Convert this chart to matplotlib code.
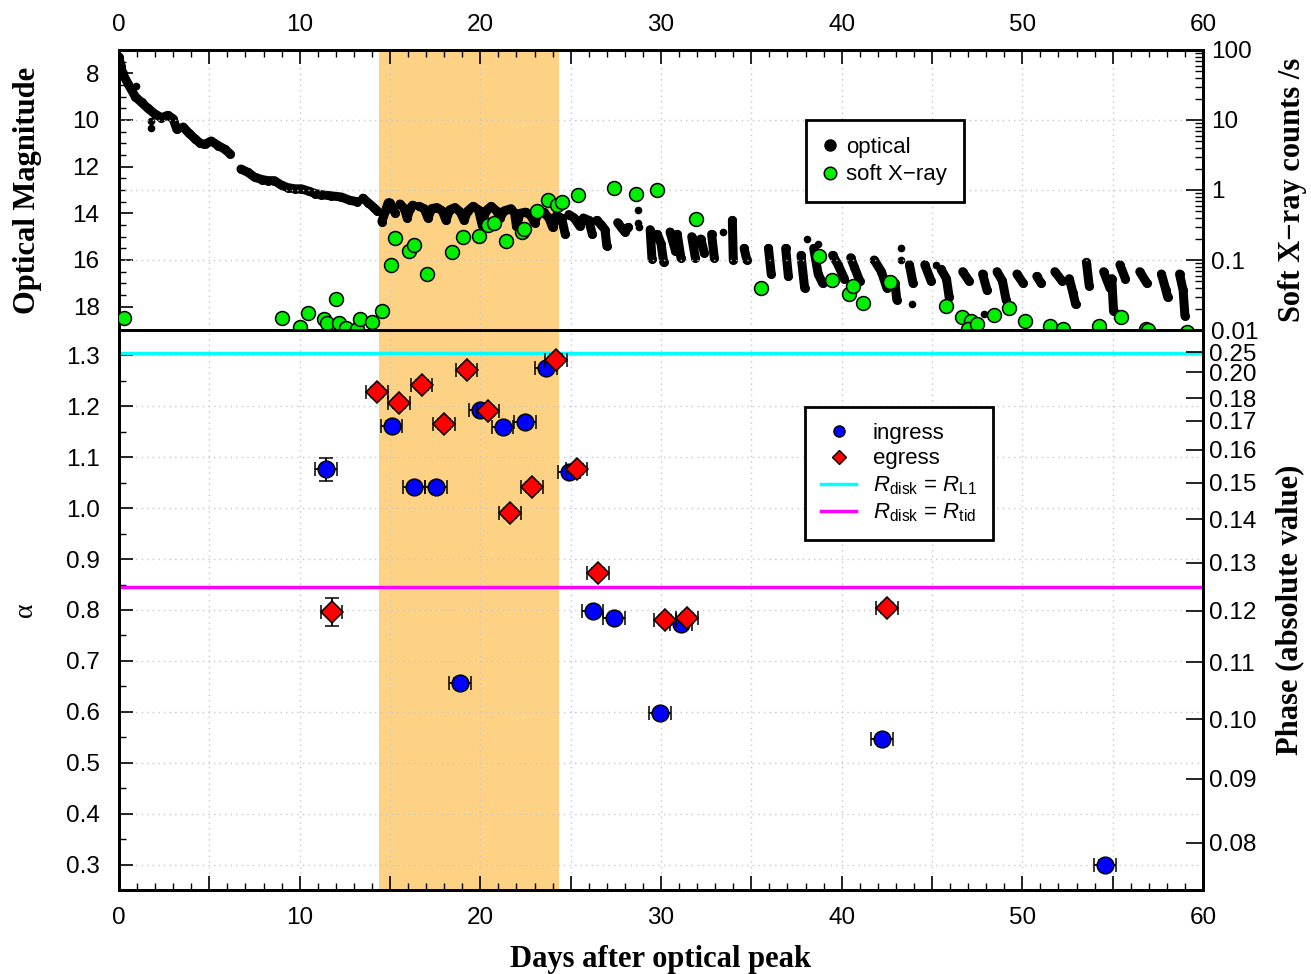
import numpy as np
import matplotlib
matplotlib.use("Agg")
import matplotlib.pyplot as plt
from matplotlib.lines import Line2D
from matplotlib.ticker import MultipleLocator, LogLocator, NullFormatter, FixedLocator

plt.rcParams['font.family'] = ['Liberation Sans', 'DejaVu Sans']
plt.rcParams['mathtext.fontset'] = 'custom'
plt.rcParams['mathtext.rm'] = 'Liberation Sans'
plt.rcParams['mathtext.it'] = 'Liberation Sans:italic'

nan = np.nan

# optical light curve, nightly runs separated by nan (day, magnitude)
opt_day = [0.0, 0.1, 0.2, 0.5, 0.9, 1.25, 1.6, 2.0, 2.35, 2.7, 3.0, 3.2, nan,
           3.55, 3.85, 4.2, 4.5, 4.75, 5.1, 5.5, 5.85, 6.15, nan,
           6.75, 7.15, 7.5, 7.9, 8.25, 8.6, 9.0, 9.35, 9.75, 10.1, 10.5, 10.85, 11.2, 11.75, 12.3, 12.8, 13.2, nan,
           13.5, 13.8, 14.1, 14.3, nan,
           14.55, 14.75, 14.9, nan,
           15.0, 15.15, 15.3, nan,
           15.55, 15.8, 15.95, 16.1, 16.25, nan,
           16.6, 16.9, 17.1, 17.3, 17.6, 17.9, 18.1, 18.3, 18.6, 18.9, 19.1, 19.3, 19.6, 19.9, 20.1, 20.3,
           20.6, 20.9, 21.1, 21.3, 21.7, 21.9, 22.0, 22.2, 22.5, 22.8, 23.0, 23.2, 23.5, 23.8, 24.0, 24.2,
           24.5, 24.7, nan,
           24.9, 25.2, 25.5, 25.7, 26.0, 26.2, nan,
           26.45, 26.7, 26.9, 27.0, nan,
           27.6, 27.8, 28.0, 28.2, nan,
           29.4, 29.5, nan, 29.8, 30.0, 30.15, nan, 30.5, 30.8, nan, 30.9, 31.1, nan,
           31.7, 31.9, nan, 32.2, 32.4, nan, 32.8, 32.95, nan, 33.95, 34.0, nan, 34.6, 34.75, nan,
           35.95, 36.1, nan, 36.9, 37.05, nan, 37.75, 37.95, nan, 38.45, 38.7, 38.95, nan,
           39.5, 39.8, 40.15, nan, 40.5, 40.7, 41.0, nan, 41.8, 42.2, 42.5, nan, 42.95, 43.05, nan,
           43.75, 43.95, nan, 44.6, 44.95, nan, 45.5, 45.8, 45.95, nan, 46.7, 47.05, nan,
           47.8, 48.05, nan, 48.6, 48.9, 49.1, nan, 49.7, 50.05, nan, 50.8, 51.05, nan,
           51.8, 52.2, nan, 52.6, 52.8, 52.95, nan, 53.55, 53.7, nan, 54.5, 54.85, nan,
           54.95, 55.05, nan, 55.4, 55.7, nan, 56.5, 56.9, nan, 57.7, 57.95, 58.05, nan,
           58.7, 58.9, 59.0]
opt_mag = [7.3, 7.7, 8.0, 8.45, 9.0, 9.25, 9.5, 9.75, 9.9, 9.8, 9.95, 10.4, nan,
           10.3, 10.55, 10.8, 11.0, 11.05, 10.9, 11.1, 11.25, 11.45, nan,
           12.1, 12.25, 12.45, 12.55, 12.6, 12.6, 12.8, 12.9, 12.95, 12.95, 13.05, 13.15, 13.2, 13.25, 13.3, 13.45, 13.5, nan,
           13.35, 13.55, 13.75, 13.9, nan,
           14.35, 13.9, 13.55, nan,
           13.55, 13.8, 14.0, nan,
           13.6, 13.8, 14.2, 13.8, 13.65, nan,
           13.7, 13.8, 14.2, 13.8, 13.75, 13.9, 14.3, 13.85, 13.75, 13.95, 14.3, 13.9, 13.7, 13.85, 14.5, 13.9,
           13.7, 13.9, 14.2, 13.9, 13.8, 14.0, 14.55, 14.0, 13.95, 14.1, 14.4, 14.0, 13.95, 14.2, 14.6, 14.1,
           14.2, 14.9, nan,
           14.05, 14.2, 14.55, 14.2, 14.3, 14.9, nan,
           14.3, 14.5, 14.7, 15.4, nan,
           14.4, 14.6, 14.8, 14.6, nan,
           14.7, 15.95, nan, 14.9, 15.3, 16.1, nan, 14.8, 15.6, nan, 14.9, 15.9, nan,
           15.0, 15.9, nan, 15.1, 15.7, nan, 14.9, 15.9, nan, 14.3, 16.0, nan, 15.5, 16.0, nan,
           15.5, 16.6, nan, 15.5, 16.7, nan, 15.8, 17.2, nan, 15.5, 16.6, 17.0, nan,
           15.8, 16.2, 16.8, nan, 15.9, 16.3, 16.9, nan, 16.0, 16.5, 17.2, nan, 17.0, 17.7, nan,
           16.2, 17.0, nan, 16.2, 16.9, nan, 16.4, 16.8, 17.6, nan, 16.5, 16.9, nan,
           16.6, 17.3, nan, 16.5, 16.9, 17.7, nan, 16.6, 17.0, nan, 16.7, 17.0, nan,
           16.5, 16.9, nan, 16.8, 17.4, 17.9, nan, 16.1, 17.1, nan, 16.5, 17.2, nan,
           16.8, 18.2, nan, 16.2, 16.8, nan, 16.5, 17.0, nan, 16.6, 17.3, 17.6, nan,
           16.6, 17.3, 18.4]
# isolated optical points
dot_day = [0.95, 1.75, 1.75, 28.7, 28.75, 28.8, 33.45, 38.1, 38.7, 43.3, 43.3, 43.9, 45.2, 47.9, 53.6]
dot_mag = [8.55, 10.35, 10.05, 13.85, 14.4, 14.6, 14.8, 15.1, 15.3, 15.5, 16.0, 17.9, 16.2, 18.33, 16.19]

# soft X-ray
xr_day = [0.28, 9.02, 10.0, 10.46, 11.35, 11.5, 12.0, 12.17, 12.56, 13.2, 13.34, 14.0, 14.55,
          15.05, 15.27, 16.05, 16.33, 17.05, 18.43, 19.04, 19.92, 20.42, 20.75, 21.42, 22.3, 22.41,
          23.13, 23.74, 24.24, 24.52, 25.4, 27.39, 28.6, 29.77, 31.93, 35.55, 38.74, 39.45, 40.4,
          40.6, 41.2, 42.67, 45.77, 46.65, 47.15, 47.0, 47.48, 48.42, 49.25, 50.14, 51.52, 52.24,
          54.23, 55.45, 56.84, 56.95, 59.1]
xr_cts = [0.015, 0.015, 0.011, 0.0175, 0.0144, 0.0126, 0.028, 0.0126, 0.0107, 0.0103, 0.0144, 0.013, 0.0187,
          0.085, 0.206, 0.135, 0.164, 0.063, 0.13, 0.213, 0.22, 0.316, 0.338, 0.187, 0.25, 0.277,
          0.5, 0.72, 0.61, 0.67, 0.85, 1.07, 0.88, 1.0, 0.385, 0.04, 0.114, 0.052, 0.033,
          0.043, 0.0243, 0.049, 0.022, 0.0153, 0.0135, 0.0103, 0.0122, 0.0164, 0.0206, 0.0135, 0.0114, 0.0103,
          0.0114, 0.0153, 0.0103, 0.01, 0.0095]

# eclipse ingress / egress
ing_day = [11.44, 15.09, 16.34, 17.56, 18.87, 19.98, 21.23, 22.47, 23.63, 24.92, 26.21, 27.41, 29.94, 31.1, 42.22, 54.57]
ing_alpha = [1.076, 1.161, 1.042, 1.042, 0.657, 1.193, 1.159, 1.169, 1.276, 1.071, 0.798, 0.785, 0.598, 0.772, 0.547, 0.30]
ing_err = [0.023, 0.01, 0.008, 0.008, 0.01, 0.008, 0.008, 0.008, 0.008, 0.008, 0.008, 0.008, 0.008, 0.008, 0.008, 0.008]
egr_day = [11.77, 14.29, 15.51, 16.75, 17.99, 19.24, 20.44, 21.64, 22.87, 24.18, 25.33, 26.52, 30.22, 31.45, 42.52]
egr_alpha = [0.796, 1.228, 1.207, 1.242, 1.166, 1.271, 1.191, 0.991, 1.042, 1.292, 1.077, 0.873, 0.780, 0.784, 0.804]
egr_err = [0.028, 0.01, 0.01, 0.01, 0.01, 0.01, 0.01, 0.01, 0.01, 0.01, 0.01, 0.01, 0.01, 0.01, 0.01]
day_err = 0.6

alpha_L1 = 1.305
alpha_tid = 0.846
shade = (14.4, 24.35)

phase_labels = ['0.25', '0.20', '0.18', '0.17', '0.16', '0.15', '0.14', '0.13', '0.12', '0.11', '0.10', '0.09', '0.08']
phase_alpha = [1.306, 1.267, 1.216, 1.172, 1.115, 1.050, 0.978, 0.893, 0.799, 0.697, 0.585, 0.469, 0.343]

day_ticks = list(range(0, 61, 5))
day_labels = [str(d) if d % 10 == 0 else '' for d in day_ticks]

fig = plt.figure(figsize=(13.11, 9.74), dpi=100)
W, H = 1311.0, 974.0
ax1 = fig.add_axes([119/W, 1-330/H, 1084/W, 280/H])
ax2 = fig.add_axes([119/W, 1-890/H, 1084/W, 560/H])

shade_col = '#fdd285'
tfs = 17.5
lfs = 22
serif = ['Liberation Serif', 'DejaVu Serif']
grid_kw = dict(color='#c8c8c8', ls=(0, (1, 3)), lw=1, zorder=1)

# ---- top panel
ax1.axvspan(shade[0], shade[1], color=shade_col, zorder=0, lw=0)
ax1.plot(opt_day, opt_mag, '-', color='k', lw=6.5, solid_capstyle='round', solid_joinstyle='round', zorder=2)
ax1.plot(opt_day, opt_mag, 'o', color='k', ms=5.5, zorder=2)
ax1.plot(dot_day, dot_mag, 'o', color='k', ms=4.5, zorder=2)
ax1.set_xlim(0, 60)
ax1.set_ylim(19, 7)
ax1.set_yticks([8, 10, 12, 14, 16, 18])
ax1.yaxis.set_minor_locator(MultipleLocator(0.5))
ax1.set_xticks(day_ticks)
ax1.set_xticklabels(day_labels)
ax1.xaxis.set_minor_locator(MultipleLocator(1))
ax1.xaxis.tick_top()
ax1.tick_params(axis='x', which='both', top=True, bottom=False, labeltop=True, labelbottom=False, direction='in', pad=10)
ax1.tick_params(axis='both', which='major', length=10, width=1.2, labelsize=tfs)
ax1.tick_params(axis='both', which='minor', length=5, width=1.0)
ax1.tick_params(axis='y', which='both', direction='in', left=True, right=False, pad=14)
for x in range(5, 60, 5):
    ax1.axvline(x, **grid_kw)
ax1.set_ylabel('Optical Magnitude', fontsize=lfs, fontweight='bold', family=serif, labelpad=22)

ax1r = ax1.twinx()
ax1r.set_yscale('log')
ax1r.set_ylim(0.01, 100)
for v in [0.1, 1, 10]:
    ax1r.axhline(v, **grid_kw)
ax1r.plot(xr_day, xr_cts, 'o', color='#00ee00', mec='k', mew=1.1, ms=10, zorder=3)
ax1r.set_yticks([0.01, 0.1, 1, 10, 100])
ax1r.set_yticklabels(['0.01', '0.1', '1', '10', '100'])
ax1r.yaxis.set_minor_locator(LogLocator(base=10, subs=np.arange(2, 10)))
ax1r.yaxis.set_minor_formatter(NullFormatter())
ax1r.tick_params(axis='y', which='major', direction='in', length=12, width=1.2, labelsize=tfs, pad=6)
ax1r.tick_params(axis='y', which='minor', direction='in', length=6, width=1.0)
ax1r.set_ylabel('Soft X\u2212ray counts /s', fontsize=lfs, fontweight='bold', family=serif, labelpad=14)

h1 = [Line2D([], [], ls='', marker='o', color='k', ms=8),
      Line2D([], [], ls='', marker='o', color='#00ee00', mec='k', mew=1.1, ms=9)]
leg1 = ax1r.legend(h1, ['optical', 'soft X\u2212ray'], loc='upper left', bbox_to_anchor=(0.634, 0.75),
                   borderaxespad=0, fontsize=16, frameon=True, fancybox=False, edgecolor='k', framealpha=1,
                   handlelength=0.6, handletextpad=0.45, borderpad=0.75, labelspacing=0.3)
leg1.get_frame().set_linewidth(2)

# ---- bottom panel
ax2.axvspan(shade[0], shade[1], color=shade_col, zorder=0, lw=0)
for x in range(5, 60, 5):
    ax2.axvline(x, **grid_kw)
for y in np.arange(0.3, 1.31, 0.1):
    ax2.axhline(y, **grid_kw)
ax2.axhline(alpha_L1, color='#00ffff', lw=2.5, zorder=2)
ax2.axhline(alpha_tid, color='#ff00ff', lw=2.5, zorder=2)
ax2.errorbar(ing_day, ing_alpha, xerr=day_err, yerr=ing_err, fmt='o', color='#0000ff', mec='k', mew=1.1,
             ms=12, ecolor='k', elinewidth=1.3, capsize=5, capthick=1.3, zorder=3)
ax2.errorbar(egr_day, egr_alpha, xerr=day_err, yerr=egr_err, fmt='D', color='#ff0000', mec='k', mew=1.1,
             ms=11.5, ecolor='k', elinewidth=1.3, capsize=5, capthick=1.3, zorder=4)
ax2.set_xlim(0, 60)
ax2.set_ylim(0.25, 1.35)
ax2.set_xticks(day_ticks)
ax2.set_xticklabels(day_labels)
ax2.xaxis.set_minor_locator(MultipleLocator(1))
ax2.yaxis.set_major_locator(FixedLocator(np.arange(0.3, 1.31, 0.1)))
ax2.yaxis.set_minor_locator(MultipleLocator(0.05))
ax2.set_yticklabels(['%.1f' % v for v in np.arange(0.3, 1.31, 0.1)])
ax2.tick_params(axis='x', which='both', top=False, bottom=True, direction='in', pad=12)
ax2.tick_params(axis='y', which='both', left=True, right=False, direction='in', pad=14)
ax2.tick_params(axis='both', which='major', length=10, width=1.2, labelsize=tfs)
ax2.tick_params(axis='both', which='minor', length=5, width=1.0)
ax2.set_xlabel('Days after optical peak', fontsize=lfs, fontweight='bold', family=serif, labelpad=12)
ax2.set_ylabel('\u03b1', fontsize=20, family=serif, labelpad=20)

ax2r = ax2.twinx()
ax2r.set_ylim(0.25, 1.35)
ax2r.set_yticks(phase_alpha)
ax2r.set_yticklabels(phase_labels)
ax2r.tick_params(axis='y', which='major', direction='in', length=12, width=1.2, labelsize=tfs, pad=4)
ax2r.set_ylabel('Phase (absolute value)', fontsize=lfs, fontweight='bold', family=serif, labelpad=14)

h2 = [Line2D([], [], ls='', marker='o', color='#0000ff', mec='k', mew=1.0, ms=8),
      Line2D([], [], ls='', marker='D', color='#ff0000', mec='k', mew=1.0, ms=7),
      Line2D([], [], color='#00ffff', lw=2.5),
      Line2D([], [], color='#ff00ff', lw=2.5)]
leg2 = ax2r.legend(h2, ['ingress', 'egress', r'$R_{\rm disk}$ = $R_{\rm L1}$', r'$R_{\rm disk}$ = $R_{\rm tid}$'],
                   loc='upper left', bbox_to_anchor=(0.633, 0.8625), borderaxespad=0, fontsize=16,
                   frameon=True, fancybox=False, edgecolor='k', framealpha=1, handlelength=1.6,
                   handletextpad=0.75, borderpad=0.7, labelspacing=0.22)
leg2.get_frame().set_linewidth(2)

for ax in (ax1, ax2, ax1r, ax2r):
    for s in ax.spines.values():
        s.set_linewidth(2)

fig.savefig('out.png', dpi=100)
